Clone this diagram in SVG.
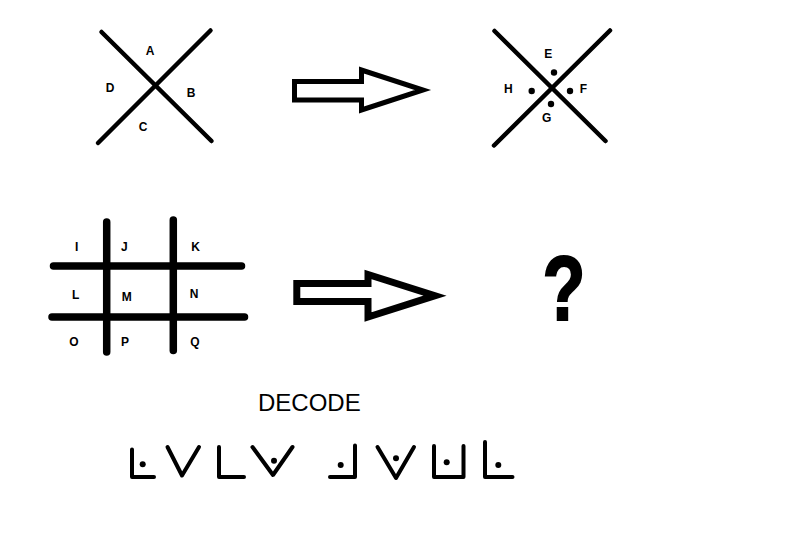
<svg xmlns="http://www.w3.org/2000/svg" width="787" height="535" viewBox="0 0 787 535">
<style>
.ln{stroke:#000;stroke-width:4.5;stroke-linecap:round;fill:none}
.gr{stroke:#000;stroke-width:7.5;stroke-linecap:round;fill:none}
.ar{stroke:#000;fill:#fff;stroke-linejoin:miter}
.lb{font-family:"Liberation Sans",Arial,sans-serif;font-weight:bold;font-size:12px;text-anchor:middle;fill:#000}
.sy{stroke:#000;stroke-width:4;stroke-linecap:round;stroke-linejoin:round;fill:none}
</style>
<rect width="787" height="535" fill="#fff"/>
<g id="x1">
<line class="ln" x1="101.5" y1="32" x2="211.5" y2="141"/>
<line class="ln" x1="210.5" y1="30.5" x2="98" y2="143"/>
<text class="lb" x="150" y="55.3">A</text>
<text class="lb" x="110" y="92.3">D</text>
<text class="lb" x="191" y="97.3">B</text>
<text class="lb" x="143" y="131.3">C</text>
</g>
<g id="arrow1">
<polygon class="ar" stroke-width="5" points="294.5,81.5 361.5,81.5 361.5,70 423,90 361.5,110 361.5,100 294.5,100"/>
</g>
<g id="x2">
<line class="ln" x1="494.5" y1="31" x2="605.5" y2="141"/>
<line class="ln" x1="610" y1="30.5" x2="494" y2="145.5"/>
<circle cx="554" cy="72.5" r="3.2"/>
<circle cx="531.7" cy="91" r="3.2"/>
<circle cx="570" cy="91" r="3.2"/>
<circle cx="551" cy="104" r="3.2"/>
<text class="lb" x="548.3" y="57.6">E</text>
<text class="lb" x="508.3" y="93.3">H</text>
<text class="lb" x="583.3" y="93.3">F</text>
<text class="lb" x="546.7" y="122">G</text>
</g>
<g id="grid">
<line class="gr" x1="106.7" y1="222" x2="106.7" y2="352"/>
<line class="gr" x1="173.3" y1="220" x2="173.3" y2="350.5"/>
<line class="gr" x1="53.5" y1="266" x2="241.5" y2="266"/>
<line class="gr" x1="52" y1="317" x2="244.5" y2="317"/>
<text class="lb" x="76.7" y="251">I</text>
<text class="lb" x="124.3" y="251.3">J</text>
<text class="lb" x="195.7" y="251">K</text>
<text class="lb" x="75.7" y="299.3">L</text>
<text class="lb" x="126.7" y="301">M</text>
<text class="lb" x="194" y="297.6">N</text>
<text class="lb" x="74" y="346">O</text>
<text class="lb" x="125" y="346">P</text>
<text class="lb" x="195" y="345.8">Q</text>
</g>
<g id="arrow2">
<polygon class="ar" stroke-width="7" points="296.8,283.5 368,283.5 368,274.5 435,295.7 368,317 368,301.5 296.8,301.5"/>
</g>
<g id="question">
<text transform="translate(564,319.5) scale(0.78,1)" font-family="Liberation Sans,Arial,sans-serif" font-weight="bold" font-size="90" text-anchor="middle" fill="#000" stroke="#000" stroke-width="2">?</text>
</g>
<g id="decode">
<text x="258" y="410.7" font-family="Liberation Sans,Arial,sans-serif" font-size="24" fill="#000">DECODE</text>
</g>
<g id="code">
<polyline class="sy" points="132,449.5 132,477 154,477"/>
<circle cx="142.7" cy="464.3" r="3"/>
<polyline class="sy" points="167.5,447 182,475.5 199,447"/>
<polyline class="sy" points="219,447 219,477 244,477"/>
<polyline class="sy" points="252.5,447 273,475 292.5,447"/>
<circle cx="274" cy="460.7" r="3"/>
<polyline class="sy" points="330,477 355,477 355,445.5"/>
<circle cx="340.7" cy="465" r="3"/>
<polyline class="sy" points="377.5,447 396,478 414,447"/>
<circle cx="396" cy="458.3" r="3"/>
<polyline class="sy" points="434,446 434,477 463.5,477 463.5,446"/>
<circle cx="446.7" cy="462.3" r="3"/>
<polyline class="sy" points="485,442 485,477 512.5,477"/>
<circle cx="498.3" cy="465" r="3"/>
</g>
</svg>
